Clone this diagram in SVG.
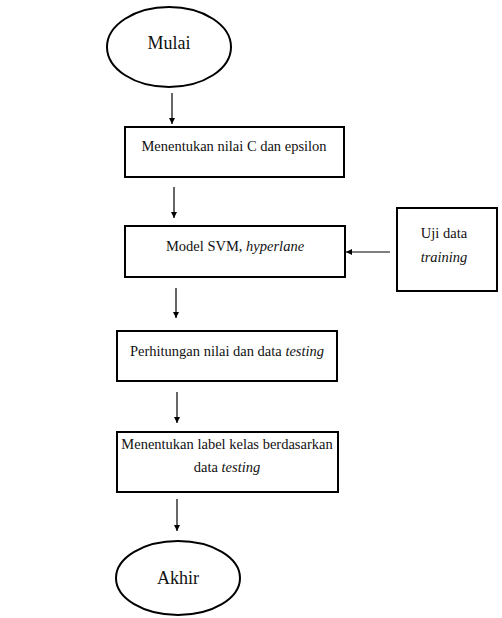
<svg xmlns="http://www.w3.org/2000/svg" width="502" height="618" viewBox="0 0 502 618">
<style>
.shape{fill:#fff;stroke:#000;stroke-width:2}
.t{font-family:"Liberation Serif","Times New Roman",serif;font-size:14.5px;fill:#111;text-anchor:middle}
.big{font-size:18px}
.i{font-style:italic}
.c{stroke:#000;stroke-width:1.2;fill:none;marker-end:url(#ah)}
</style>
<defs>
<marker id="ah" viewBox="0 0 10 10" refX="10" refY="5" markerWidth="6" markerHeight="7" markerUnits="userSpaceOnUse" orient="auto">
<path d="M0,0 L10,5 L0,10 z" fill="#000"/>
</marker>
</defs>
<rect width="502" height="618" fill="#fff"/>
<g id="connectors">
<line class="c" x1="172" y1="93" x2="172" y2="124"/>
<line class="c" x1="174" y1="187" x2="174" y2="218"/>
<line class="c" x1="390" y1="252" x2="346" y2="252"/>
<line class="c" x1="176" y1="288" x2="176" y2="318"/>
<line class="c" x1="177" y1="392" x2="177" y2="423"/>
<line class="c" x1="177" y1="499" x2="177" y2="531"/>
</g>
<g id="mulai">
<ellipse class="shape" cx="169" cy="47" rx="62" ry="40"/>
<text class="t big" x="169" y="49">Mulai</text>
</g>
<g id="nilai-c">
<rect class="shape" x="125" y="127" width="219" height="50"/>
<text class="t" x="234" y="151">Menentukan nilai C dan epsilon</text>
</g>
<g id="model-svm">
<rect class="shape" x="125" y="226" width="220" height="51"/>
<text class="t" x="235" y="251">Model SVM, <tspan class="i">hyperlane</tspan></text>
</g>
<g id="uji-data">
<rect class="shape" x="397" y="208" width="100" height="83"/>
<text class="t" x="444" y="238">Uji data</text>
<text class="t i" x="444" y="262">training</text>
</g>
<g id="perhitungan">
<rect class="shape" x="117" y="331" width="220" height="50"/>
<text class="t" x="227" y="356">Perhitungan nilai dan data <tspan class="i">testing</tspan></text>
</g>
<g id="label-kelas">
<rect class="shape" x="117" y="432" width="221" height="60"/>
<text class="t" x="227" y="449">Menentukan label kelas berdasarkan</text>
<text class="t" x="227" y="472">data <tspan class="i">testing</tspan></text>
</g>
<g id="akhir">
<ellipse class="shape" cx="178" cy="578" rx="62" ry="37"/>
<text class="t big" x="178" y="584">Akhir</text>
</g>
</svg>
